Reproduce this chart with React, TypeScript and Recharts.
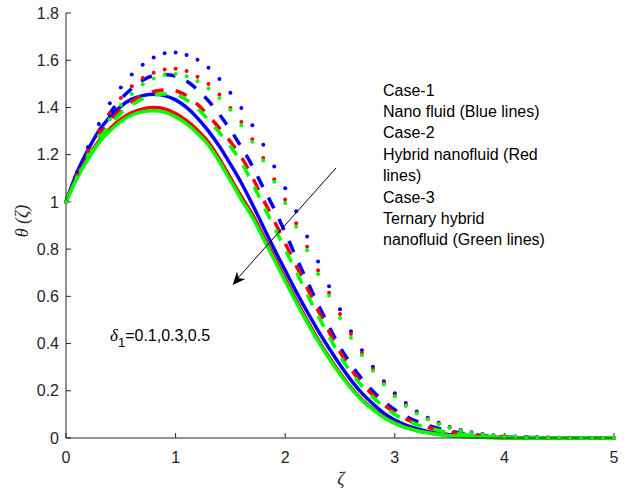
import React from 'react';
import { LineChart, Line, XAxis, YAxis } from 'recharts';

// zeta grid and theta(zeta) profiles for delta_1 = 0.1 (dotted), 0.3 (dashed), 0.5 (solid)
const zeta = [
  0, 0.1, 0.2, 0.3, 0.4, 0.5, 0.6, 0.7, 0.8, 0.9, 1.0, 1.1, 1.2, 1.3, 1.4, 1.5, 1.6, 1.7, 1.8, 1.9,
  2.0, 2.1, 2.2, 2.3, 2.4, 2.5, 2.6, 2.7, 2.8, 2.9, 3.0, 3.1, 3.2, 3.3, 3.4, 3.5, 3.6, 3.7, 3.8, 3.9,
  4.0, 4.1, 4.2, 4.3, 4.4, 4.5, 4.6, 4.7, 4.8, 4.9, 5.0,
];

const blueSolid = [
  1.0, 1.125, 1.22, 1.3, 1.36, 1.405, 1.435, 1.45, 1.456, 1.45, 1.432, 1.4, 1.355, 1.3, 1.235, 1.16, 1.08, 0.99, 0.895, 0.8,
  0.71, 0.62, 0.535, 0.455, 0.38, 0.31, 0.245, 0.19, 0.145, 0.105, 0.076, 0.055, 0.04, 0.028, 0.02, 0.014, 0.01, 0.007, 0.005, 0.003,
  0.002, 0.001, 0.001, 0.001, 0, 0, 0, 0, 0, 0, 0,
];
const redSolid = [
  1.0, 1.105, 1.188, 1.258, 1.31, 1.35, 1.378, 1.394, 1.4, 1.394, 1.374, 1.344, 1.303, 1.252, 1.182, 1.102, 1.022, 0.947, 0.857, 0.766,
  0.675, 0.584, 0.498, 0.417, 0.343, 0.275, 0.214, 0.163, 0.123, 0.089, 0.064, 0.045, 0.032, 0.023, 0.016, 0.011, 0.007, 0.005, 0.003, 0.002,
  0.001, 0, 0, 0, 0, 0, 0, 0, 0, 0, 0,
];
const greenSolid = [
  1.0, 1.1, 1.18, 1.25, 1.3, 1.34, 1.368, 1.382, 1.386, 1.38, 1.36, 1.33, 1.29, 1.24, 1.17, 1.09, 1.01, 0.935, 0.845, 0.755,
  0.665, 0.575, 0.49, 0.41, 0.337, 0.27, 0.21, 0.16, 0.12, 0.087, 0.062, 0.044, 0.031, 0.022, 0.015, 0.01, 0.007, 0.005, 0.003, 0.002,
  0.001, 0, 0, 0, 0, 0, 0, 0, 0, 0, 0,
];
const blueDashed = [
  1.0, 1.12, 1.215, 1.3, 1.375, 1.435, 1.48, 1.515, 1.535, 1.54, 1.533, 1.512, 1.475, 1.428, 1.37, 1.305, 1.232, 1.152, 1.06, 0.97,
  0.87, 0.765, 0.665, 0.567, 0.472, 0.385, 0.312, 0.25, 0.198, 0.155, 0.12, 0.092, 0.07, 0.053, 0.04, 0.029, 0.021, 0.015, 0.011, 0.008,
  0.005, 0.004, 0.003, 0.002, 0.001, 0.001, 0, 0, 0, 0, 0,
];
const redDashed = [
  1.0, 1.11, 1.2, 1.28, 1.34, 1.39, 1.425, 1.452, 1.468, 1.474, 1.47, 1.45, 1.413, 1.365, 1.312, 1.255, 1.19, 1.105, 1.01, 0.92,
  0.825, 0.73, 0.635, 0.54, 0.45, 0.365, 0.292, 0.232, 0.182, 0.141, 0.107, 0.081, 0.061, 0.046, 0.034, 0.025, 0.018, 0.013, 0.009, 0.006,
  0.004, 0.003, 0.002, 0.001, 0.001, 0, 0, 0, 0, 0, 0,
];
const greenDashed = [
  1.0, 1.1, 1.19, 1.265, 1.325, 1.375, 1.41, 1.437, 1.452, 1.457, 1.453, 1.432, 1.395, 1.347, 1.293, 1.235, 1.167, 1.08, 0.985, 0.893,
  0.798, 0.705, 0.61, 0.518, 0.43, 0.348, 0.278, 0.22, 0.172, 0.133, 0.1, 0.076, 0.057, 0.043, 0.032, 0.023, 0.017, 0.012, 0.008, 0.006,
  0.004, 0.003, 0.002, 0.001, 0.001, 0, 0, 0, 0, 0, 0,
];
const blueDotted = [
  1.0, 1.125, 1.232, 1.33, 1.418, 1.485, 1.54, 1.581, 1.612, 1.63, 1.633, 1.622, 1.602, 1.568, 1.52, 1.462, 1.398, 1.325, 1.242, 1.15,
  1.058, 0.96, 0.853, 0.748, 0.643, 0.545, 0.452, 0.372, 0.302, 0.24, 0.19, 0.148, 0.112, 0.086, 0.065, 0.047, 0.034, 0.024, 0.017, 0.012,
  0.008, 0.006, 0.004, 0.003, 0.002, 0.001, 0.001, 0, 0, 0, 0,
];
const redDotted = [
  1.0, 1.115, 1.215, 1.3, 1.375, 1.44, 1.49, 1.525, 1.547, 1.561, 1.564, 1.554, 1.53, 1.499, 1.455, 1.398, 1.338, 1.265, 1.186, 1.096,
  1.01, 0.91, 0.81, 0.71, 0.615, 0.525, 0.44, 0.36, 0.292, 0.232, 0.18, 0.14, 0.107, 0.081, 0.06, 0.044, 0.032, 0.023, 0.016, 0.011,
  0.007, 0.005, 0.004, 0.003, 0.002, 0.001, 0, 0, 0, 0, 0,
];
const greenDotted = [
  1.0, 1.105, 1.2, 1.28, 1.35, 1.41, 1.457, 1.498, 1.523, 1.538, 1.542, 1.532, 1.512, 1.48, 1.44, 1.39, 1.325, 1.255, 1.175, 1.085,
  0.995, 0.895, 0.795, 0.695, 0.603, 0.508, 0.425, 0.35, 0.285, 0.227, 0.176, 0.136, 0.104, 0.079, 0.058, 0.043, 0.031, 0.022, 0.015, 0.011,
  0.007, 0.005, 0.003, 0.002, 0.001, 0.001, 0, 0, 0, 0, 0,
];

const xTicks = [0, 1, 2, 3, 4, 5];
const yTicks = [0, 0.2, 0.4, 0.6, 0.8, 1, 1.2, 1.4, 1.6, 1.8];

const legendLines = [
  'Case-1',
  'Nano fluid (Blue lines)',
  'Case-2',
  'Hybrid nanofluid (Red',
  'lines)',
  'Case-3',
  'Ternary hybrid',
  'nanofluid (Green lines)',
];

const BLUE = '#0000ff';
const RED = '#ff0000';
const GREEN = '#00ff00';
const AXIS = '#262626';
const SANS = '"Liberation Sans", Arial, sans-serif';
const SERIF = '"Liberation Serif", "Times New Roman", serif';

type Style = 'solid' | 'dashed' | 'dotted';
const series: { key: string; values: number[]; color: string; style: Style }[] = [
  { key: 'blueSolid', values: blueSolid, color: BLUE, style: 'solid' },
  { key: 'blueDashed', values: blueDashed, color: BLUE, style: 'dashed' },
  { key: 'blueDotted', values: blueDotted, color: BLUE, style: 'dotted' },
  { key: 'redSolid', values: redSolid, color: RED, style: 'solid' },
  { key: 'redDashed', values: redDashed, color: RED, style: 'dashed' },
  { key: 'redDotted', values: redDotted, color: RED, style: 'dotted' },
  { key: 'greenSolid', values: greenSolid, color: GREEN, style: 'solid' },
  { key: 'greenDashed', values: greenDashed, color: GREEN, style: 'dashed' },
  { key: 'greenDotted', values: greenDotted, color: GREEN, style: 'dotted' },
];

const data = zeta.map((z, i) => {
  const row: Record<string, number> = { z };
  series.forEach((s) => {
    row[s.key] = s.values[i];
  });
  return row;
});

const tickStyle = { fill: AXIS, fontSize: 16, fontFamily: SANS };

const App: React.FC = () => {
  return (
    <div style={{ position: 'absolute', left: 0, top: 0, width: 627, height: 493, background: '#fff' }}>
      <LineChart width={627} height={493} data={data} margin={{ top: 13, right: 13, bottom: 25, left: 0 }}>
        <XAxis
          dataKey="z"
          type="number"
          domain={[0, 5]}
          ticks={xTicks}
          height={30}
          tickSize={-5}
          tickMargin={19}
          tick={tickStyle}
          axisLine={{ stroke: AXIS }}
          tickLine={{ stroke: AXIS }}
        />
        <XAxis
          xAxisId="top"
          orientation="top"
          dataKey="z"
          type="number"
          domain={[0, 5]}
          ticks={xTicks}
          height={0}
          tickSize={-5}
          tickFormatter={() => ''}
          axisLine={{ stroke: AXIS }}
          tickLine={{ stroke: AXIS }}
        />
        <YAxis
          type="number"
          domain={[0, 1.8]}
          ticks={yTicks}
          width={66}
          tickSize={-5}
          tickMargin={12}
          tick={tickStyle}
          axisLine={{ stroke: AXIS }}
          tickLine={{ stroke: AXIS }}
        />
        <YAxis
          yAxisId="right"
          orientation="right"
          type="number"
          domain={[0, 1.8]}
          ticks={yTicks}
          width={0}
          tickSize={-5}
          tickFormatter={() => ''}
          axisLine={{ stroke: AXIS }}
          tickLine={{ stroke: AXIS }}
        />
        {series.map((s) =>
          s.style === 'dotted' ? (
            <Line
              key={s.key}
              dataKey={s.key}
              type="monotone"
              stroke="none"
              dot={{ r: 2, fill: s.color, stroke: 'none' }}
              isAnimationActive={false}
            />
          ) : (
            <Line
              key={s.key}
              dataKey={s.key}
              type="monotone"
              stroke={s.color}
              strokeWidth={3.5}
              strokeDasharray={s.style === 'dashed' ? '12 12' : undefined}
              dot={false}
              isAnimationActive={false}
            />
          )
        )}
      </LineChart>

      <svg width={627} height={493} style={{ position: 'absolute', left: 0, top: 0, pointerEvents: 'none' }}>
        {/* arrow: increasing delta_1 */}
        <line x1={336} y1={168} x2={238} y2={278} stroke="#000" strokeWidth={1} />
        <polygon points="232.7,285 245.5,279 238.7,278.3 237,271.5" fill="#000" />

        {legendLines.map((t, i) => (
          <text key={i} x={383} y={95.5 + i * 21.4} fontSize={16} fontFamily={SANS} fill="#000">
            {t}
          </text>
        ))}

        <text x={110} y={340.5} fontSize={16} fontFamily={SANS} fill="#000">
          <tspan fontFamily={SERIF} fontStyle="italic" fontSize={17}>δ</tspan>
          <tspan fontSize={13} dy={6}>1</tspan>
          <tspan dy={-6}>=0.1,0.3,0.5</tspan>
        </text>

        <text x={341} y={485} fontSize={18} fontFamily={SERIF} fontStyle="italic" textAnchor="middle" fill={AXIS}>
          ζ
        </text>
        <text
          x={28}
          y={221}
          fontSize={18}
          fontFamily={SERIF}
          fontStyle="italic"
          textAnchor="middle"
          fill={AXIS}
          transform="rotate(-90 28 221)"
        >
          θ (ζ)
        </text>
      </svg>
    </div>
  );
};

export default App;
